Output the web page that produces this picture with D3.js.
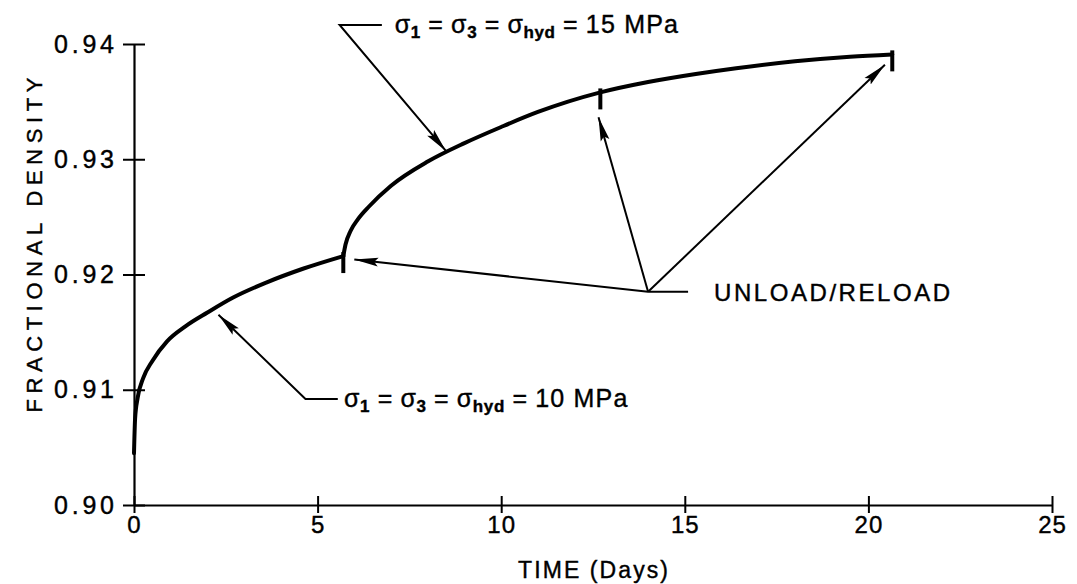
<!DOCTYPE html>
<html>
<head>
<meta charset="utf-8">
<script src="https://d3js.org/d3.v7.min.js"></script>
<style>
  body { margin: 0; background: white; font-family: "Liberation Sans", Arial, sans-serif; }
  svg text { fill: black; stroke: black; stroke-width: 0.4; }
</style>
</head>
<body>
<div id="chart"></div>
<script>
// ticks
var xTicks = [0, 5, 10, 15, 20, 25];
var yTicks = [0.90, 0.91, 0.92, 0.93, 0.94];
var yTickLabels = ["0.90", "0.91", "0.92", "0.93", "0.94"];

// creep curves, [days, fractional density]
var load10 = [[0, 0.9045], [0.03, 0.9075], [0.1, 0.9093], [0.25, 0.911], [0.5, 0.9125],
  [0.9, 0.9142], [1.4, 0.9155], [2, 0.9167], [2.7, 0.918], [3.6, 0.9193], [4.6, 0.9205], [5.7, 0.9216]];
var load15 = [[5.7, 0.9216], [5.76, 0.9226], [5.9, 0.9238], [6.1, 0.9248], [6.4, 0.9259],
  [7, 0.9277], [8, 0.9298], [9, 0.9314], [10, 0.9328], [11, 0.9341], [12.7, 0.9358],
  [14, 0.9367], [15.3, 0.9374], [16.4, 0.9379], [18, 0.9385], [19.5, 0.9389], [20.65, 0.9391]];
var unloadDays = [5.7, 12.7, 20.65];
var unloadDensity = [0.9216, 0.9358, 0.9391];

// annotations, [days, density]
var unloadHub = [14.0, 0.9185];
var unloadTips = [[6.0, 0.9213], [12.65, 0.93365], [20.45, 0.9382]];
var label15 = { text: "15 MPa", elbow: [5.6, 0.94165], end: [6.75, 0.94165], tip: [8.5, 0.9307], textAt: [7.1, 0.94165] };
var label10 = { text: "10 MPa", elbow: [4.67, 0.9092], end: [5.55, 0.9092], tip: [2.3, 0.9165], textAt: [5.72, 0.9092] };

var W = 1077, H = 584;
var x = d3.scaleLinear().domain([0, 25]).range([134, 1052]);
var y = d3.scaleLinear().domain([0.90, 0.94]).range([505, 44]);

var svg = d3.select("#chart").append("svg")
  .attr("width", W).attr("height", H);

var defs = svg.append("defs");
defs.append("marker")
  .attr("id", "head")
  .attr("markerUnits", "userSpaceOnUse")
  .attr("markerWidth", 30).attr("markerHeight", 14)
  .attr("refX", 24).attr("refY", 6)
  .attr("orient", "auto")
  .append("path")
  .attr("d", "M0,1.5 L24,6 L0,10.5 L4,6 Z")
  .attr("fill", "black");

// axes
var xAxis = svg.append("g")
  .attr("transform", "translate(0," + y(0.90) + ")")
  .call(d3.axisBottom(x).tickValues(xTicks).tickSize(8).tickSizeOuter(0).tickFormat(d3.format("d")));
xAxis.select(".domain").attr("stroke-width", 2.2);
xAxis.selectAll(".tick line").attr("y1", -9).attr("stroke-width", 2);
xAxis.selectAll(".tick text")
  .attr("y", 11).attr("dy", "0.71em")
  .attr("font-size", 24).attr("letter-spacing", 1)
  .attr("font-family", "Liberation Sans, Arial, sans-serif");

var yAxis = svg.append("g")
  .attr("transform", "translate(" + x(0) + ",0)")
  .call(d3.axisLeft(y).tickValues(yTicks).tickSize(11).tickSizeOuter(0)
    .tickFormat(function(d, i) { return yTickLabels[i]; }));
yAxis.select(".domain").attr("stroke-width", 2.2);
yAxis.selectAll(".tick line").attr("x1", 11).attr("stroke-width", 2);
yAxis.selectAll(".tick text")
  .attr("x", -20)
  .attr("font-size", 25)
  .attr("textLength", 60).attr("lengthAdjust", "spacing")
  .attr("font-family", "Liberation Sans, Arial, sans-serif");
svg.selectAll(".domain, .tick line").attr("stroke", "black");

svg.append("text")
  .attr("x", x(12.5)).attr("y", 578)
  .attr("text-anchor", "middle")
  .attr("font-size", 23)
  .attr("textLength", 150).attr("lengthAdjust", "spacing")
  .text("TIME (Days)");

svg.append("text")
  .attr("transform", "translate(42,245) rotate(-90)")
  .attr("text-anchor", "middle")
  .attr("font-size", 22)
  .attr("textLength", 335).attr("lengthAdjust", "spacing")
  .text("FRACTIONAL DENSITY");

// curves
var line = d3.line()
  .x(function(d) { return x(d[0]); })
  .y(function(d) { return y(d[1]); })
  .curve(d3.curveMonotoneX);

svg.selectAll(".curve")
  .data([load10, load15])
  .enter().append("path")
  .attr("class", "curve")
  .attr("d", line)
  .attr("fill", "none")
  .attr("stroke", "black")
  .attr("stroke-width", 4)
  .attr("stroke-linecap", "round");

// unload/reload marks
svg.selectAll(".mark")
  .data(unloadDays)
  .enter().append("line")
  .attr("x1", function(d) { return x(d); })
  .attr("x2", function(d) { return x(d); })
  .attr("y1", function(d, i) { return y(unloadDensity[i]) - 4; })
  .attr("y2", function(d, i) { return y(unloadDensity[i]) + 17; })
  .attr("stroke", "black")
  .attr("stroke-width", 4);

// UNLOAD/RELOAD arrows
svg.selectAll(".uarrow")
  .data(unloadTips)
  .enter().append("line")
  .attr("x1", x(unloadHub[0])).attr("y1", y(unloadHub[1]))
  .attr("x2", function(d) { return x(d[0]); })
  .attr("y2", function(d) { return y(d[1]); })
  .attr("stroke", "black").attr("stroke-width", 2)
  .attr("marker-end", "url(#head)");

svg.append("line")
  .attr("x1", x(unloadHub[0])).attr("y1", y(unloadHub[1]))
  .attr("x2", x(unloadHub[0]) + 40).attr("y2", y(unloadHub[1]))
  .attr("stroke", "black").attr("stroke-width", 2);

svg.append("text")
  .attr("x", x(unloadHub[0]) + 66).attr("y", y(unloadHub[1]) + 9)
  .attr("font-size", 24)
  .attr("textLength", 236).attr("lengthAdjust", "spacing")
  .text("UNLOAD/RELOAD");

// stress labels
function stressLabel(lab) {
  svg.append("path")
    .attr("d", "M" + x(lab.end[0]) + "," + y(lab.end[1]) +
               "L" + x(lab.elbow[0]) + "," + y(lab.elbow[1]) +
               "L" + x(lab.tip[0]) + "," + y(lab.tip[1]))
    .attr("fill", "none")
    .attr("stroke", "black").attr("stroke-width", 2)
    .attr("marker-end", "url(#head)");

  var t = svg.append("text")
    .attr("x", x(lab.textAt[0])).attr("y", y(lab.textAt[1]) + 8)
    .attr("font-size", 25).attr("letter-spacing", 0.6);
  var subs = ["1", "3", "hyd"];
  subs.forEach(function(s, i) {
    t.append("tspan").text("σ");
    t.append("tspan").attr("dy", 5).attr("font-size", 17).attr("font-weight", "bold").text(s);
    t.append("tspan").attr("dy", -5).text(i < 2 ? " = " : " =  ");
  });
  t.append("tspan").attr("letter-spacing", 1.2).text(lab.text);
}
stressLabel(label15);
stressLabel(label10);
</script>
</body>
</html>
